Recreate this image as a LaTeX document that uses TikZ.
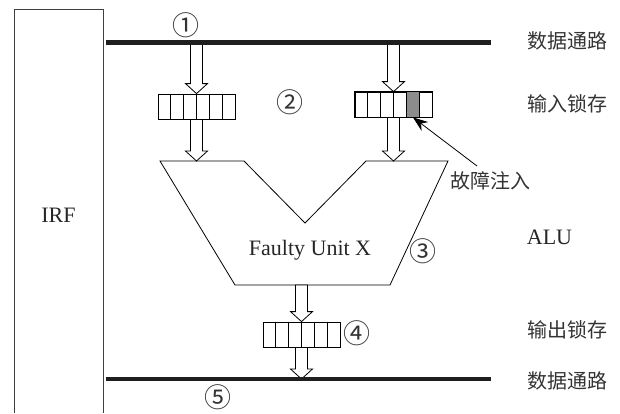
\documentclass[tikz,border=0pt]{standalone}
\usepackage{fontspec}
\setmainfont{Liberation Serif}
\newfontfamily\cjk{Noto Sans CJK SC}
\usetikzlibrary{calc,arrows.meta}
\tikzset{
  latch/.style={draw=black,line width=0.8pt,fill=white,minimum width=77pt,minimum height=25pt,inner sep=0pt},
  blk/.style={draw=black,line width=0.8pt,fill=white,line join=miter},
  bus/.style={line width=4.5pt,color=black!88},
  lbl/.style={font=\fontsize{20}{22}\selectfont\cjk,text=black!80,inner sep=0pt},
  lat/.style={font=\fontsize{22}{24}\selectfont,text=black!85,inner sep=0pt},
  num/.style={font=\fontsize{27}{29}\selectfont\cjk,text=black!80,inner sep=0pt},
}
\newcommand\blockarrow[2]{%
  \draw[blk] let \p1=#1, \p2=#2 in
   (\x1-6pt,\y1) -- (\x1-6pt,\y2+10pt) -- (\x1-11pt,\y2+10pt) -- (\x1,\y2)
   -- (\x1+11pt,\y2+10pt) -- (\x1+6pt,\y2+10pt) -- (\x1+6pt,\y1) -- cycle;}
\newcommand\cells[1]{%
  \foreach \i in {1,...,5}
    \draw[line width=0.8pt] ($(#1.north west)!\i/6!(#1.north east)$) -- ($(#1.south west)!\i/6!(#1.south east)$);}
\begin{document}
\begin{tikzpicture}[x=1pt,y=-1pt]
\useasboundingbox (0,0) rectangle (620,413);
% IRF
\draw[line width=0.8pt,black!75] (14,413) -- (14,9) -- (103,9) -- (103,413);
\node[lat] (irf) at (58.5,215) {IRF};
% buses
\coordinate (b1w) at (106,42.5);
\coordinate (b1e) at (491,42.5);
\coordinate (b2w) at (106,379);
\coordinate (b2e) at (491,379);
% ALU
\coordinate (a1) at (160,161);
\coordinate (a2) at (244,161);
\coordinate (a3) at (305,223);
\coordinate (a4) at (366,161);
\coordinate (a5) at (448,161);
\coordinate (a6) at (390,285);
\coordinate (a7) at (235,285);
\draw[line width=0.8pt,line join=miter] (a1) -- (a2) -- (a3) -- (a4) -- (a5) -- (a6) -- (a7) -- cycle;
\node[lat] (fu) at (310,250) {Faulty Unit X};
% latches
\node[latch] (l1) at (196.5,106.5) {};
\node[latch] (l2) at (393.5,104.5) {};
\node[latch] (l3) at (301.5,334.5) {};
\fill[black!45] ($(l2.north west)!4/6!(l2.north east)$) rectangle ($(l2.south west)!5/6!(l2.south east)$);
\draw[line width=0.8pt] (l2.north west) rectangle (l2.south east);
\cells{l1}\cells{l2}\cells{l3}
% arrows
\blockarrow{(l1 |- b1w)}{(l1.north)}
\blockarrow{(l1.south)}{(l1 |- a1)}
\blockarrow{(l2 |- b1w)}{(l2.north)}
\blockarrow{(l2.south)}{(l2 |- a1)}
\blockarrow{(l3 |- a7)}{(l3.north)}
\blockarrow{(l3.south)}{(l3 |- b2w)}
% buses on top
\draw[bus] (b1w) -- (b1e);
\draw[bus] (b2w) -- (b2e);
% fault injection
\node[lbl] (fault) at (490,181) {故障注入};
\coordinate (ftail) at (477,166);
\coordinate (fcell) at ($(l2.south west)!4.5/6!(l2.south east)$);
\draw[line width=0.8pt,-{Stealth[length=15pt,width=11pt]}] (ftail) -- (fcell);
% right labels
\node[lbl] (t1) at (567.5,41) {数据通路};
\node[lbl] (t2) at (567.5,104) {输入锁存};
\node[lat] (t3) at (549.5,237) {ALU};
\node[lbl] (t4) at (567.5,330) {输出锁存};
\node[lbl] (t5) at (567.5,381) {数据通路};
% circled numbers
\node[num] (n1) at (186,25) {①};
\node[num] (n2) at (290,102) {②};
\node[num] (n3) at (423,251) {③};
\node[num] (n4) at (357,333) {④};
\node[num] (n5) at (218,397) {⑤};
\end{tikzpicture}
\end{document}
